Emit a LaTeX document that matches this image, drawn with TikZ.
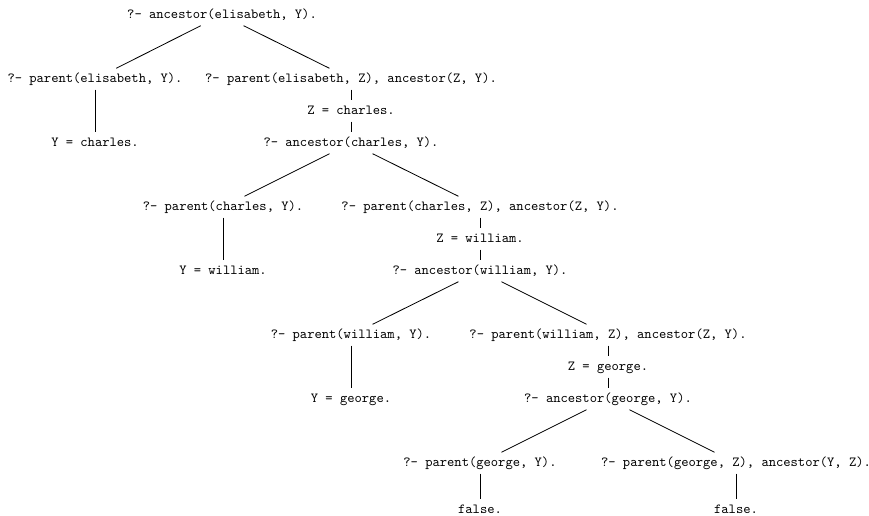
\documentclass[tikz,border=0pt]{standalone}
\begin{document}
\begin{tikzpicture}[x=0.72pt,y=-0.72pt,
  goal/.style={font=\ttfamily, inner sep=3pt, text height=1.6ex, text depth=.5ex},
  edge/.style={draw=black, line width=0.6pt}]
\useasboundingbox (0,0) rectangle (869,516);
% level 0
\node[goal] (root) at (222,15) {?- ancestor(elisabeth, Y).};
% level 1
\node[goal] (p1) at (95,79) {?- parent(elisabeth, Y).};
\node[goal] (c1) at (351,79) {?- parent(elisabeth, Z), ancestor(Z, Y).};
\node[goal] (r1) at (95,143) {Y = charles.};
\node[goal] (z1) at (351,111) {Z = charles.};
\node[goal] (a1) at (351,143) {?- ancestor(charles, Y).};
% level 2
\node[goal] (p2) at (223,207) {?- parent(charles, Y).};
\node[goal] (c2) at (480,207) {?- parent(charles, Z), ancestor(Z, Y).};
\node[goal] (r2) at (223,271) {Y = william.};
\node[goal] (z2) at (480,239) {Z = william.};
\node[goal] (a2) at (480,271) {?- ancestor(william, Y).};
% level 3
\node[goal] (p3) at (351,335) {?- parent(william, Y).};
\node[goal] (c3) at (608,335) {?- parent(william, Z), ancestor(Z, Y).};
\node[goal] (r3) at (351,399) {Y = george.};
\node[goal] (z3) at (608,367) {Z = george.};
\node[goal] (a3) at (608,399) {?- ancestor(george, Y).};
% level 4
\node[goal] (p4) at (480,463) {?- parent(george, Y).};
\node[goal] (c4) at (736,463) {?- parent(george, Z), ancestor(Y, Z).};
\node[goal] (f1) at (480,510) {false.};
\node[goal] (f2) at (736,510) {false.};
% edges
\draw[edge] (root) -- (p1);
\draw[edge] (root) -- (c1);
\draw[edge] (p1) -- (r1);
\draw[edge] (c1) -- (z1);
\draw[edge] (z1) -- (a1);
\draw[edge] (a1) -- (p2);
\draw[edge] (a1) -- (c2);
\draw[edge] (p2) -- (r2);
\draw[edge] (c2) -- (z2);
\draw[edge] (z2) -- (a2);
\draw[edge] (a2) -- (p3);
\draw[edge] (a2) -- (c3);
\draw[edge] (p3) -- (r3);
\draw[edge] (c3) -- (z3);
\draw[edge] (z3) -- (a3);
\draw[edge] (a3) -- (p4);
\draw[edge] (a3) -- (c4);
\draw[edge] (p4) -- (f1);
\draw[edge] (c4) -- (f2);
\end{tikzpicture}
\end{document}
